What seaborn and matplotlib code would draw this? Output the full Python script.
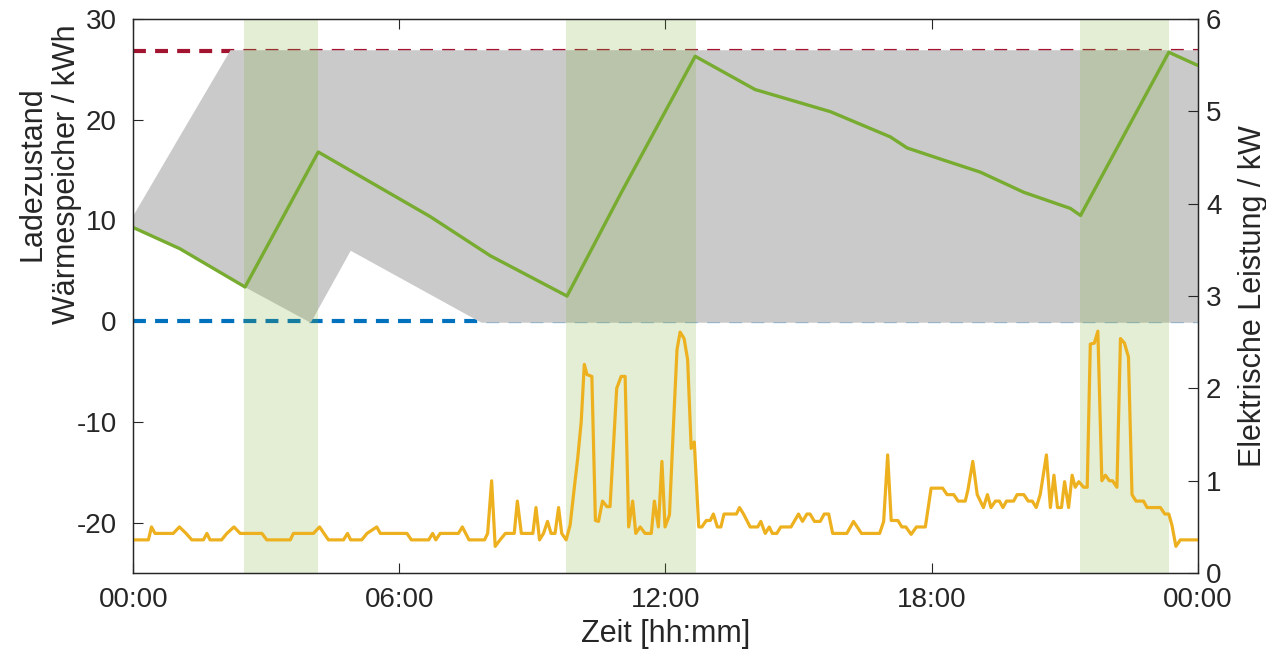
import matplotlib
matplotlib.use('Agg')
import matplotlib.pyplot as plt
import seaborn as sns

# Ladezustand Wärmespeicher (kWh) über der Zeit (h)
soc_t = [0.00, 1.05, 2.52, 4.17, 6.69, 8.05, 9.78, 11.02, 12.67, 14.02,
         15.72, 17.07, 17.45, 18.20, 19.10, 20.08, 21.13, 21.36, 23.35, 24.00]
soc_kwh = [9.3, 7.2, 3.4, 16.8, 10.4, 6.5, 2.5, 12.9, 26.3, 23.0,
           20.8, 18.3, 17.2, 16.1, 14.8, 12.8, 11.2, 10.5, 26.7, 25.4]

# Elektrische Leistung (kW)
p_t = [0.00, 0.34, 0.41, 0.49, 0.90, 1.04, 1.19, 1.32, 1.58, 1.66, 1.73, 1.99, 2.11, 2.27, 2.41,
       2.90, 3.01, 3.54, 3.61, 4.06, 4.20, 4.40, 4.74, 4.83, 4.90, 5.15, 5.27, 5.49, 5.57, 6.17,
       6.27, 6.66, 6.75, 6.82, 6.92, 7.33, 7.42, 7.57, 7.92, 7.99, 8.08, 8.16, 8.27, 8.39, 8.59,
       8.66, 8.75, 9.01, 9.08, 9.16, 9.25, 9.34, 9.42, 9.51, 9.59, 9.66, 9.76, 9.85, 9.95, 10.02,
       10.10, 10.17, 10.23, 10.34, 10.42, 10.49, 10.58, 10.68, 10.75, 10.90, 11.00, 11.09, 11.17,
       11.26, 11.33, 11.43, 11.54, 11.68, 11.75, 11.84, 11.92, 11.99, 12.09, 12.18, 12.26, 12.33,
       12.42, 12.50, 12.58, 12.65, 12.75, 12.82, 12.92, 13.01, 13.08, 13.17, 13.25, 13.32, 13.60,
       13.67, 13.76, 13.91, 14.08, 14.15, 14.25, 14.34, 14.41, 14.51, 14.60, 14.83, 15.00, 15.09,
       15.19, 15.26, 15.36, 15.49, 15.58, 15.68, 15.77, 16.09, 16.24, 16.42, 16.83, 16.92, 17.01,
       17.09, 17.24, 17.33, 17.42, 17.54, 17.66, 17.86, 17.99, 18.25, 18.35, 18.50, 18.60, 18.76,
       18.82, 18.93, 19.03, 19.17, 19.26, 19.34, 19.44, 19.53, 19.61, 19.69, 19.85, 19.93, 20.08,
       20.18, 20.27, 20.36, 20.45, 20.59, 20.68, 20.76, 20.84, 20.93, 21.00, 21.09, 21.17, 21.24,
       21.32, 21.43, 21.51, 21.58, 21.67, 21.75, 21.84, 21.92, 22.01, 22.08, 22.18, 22.26, 22.35,
       22.44, 22.52, 22.61, 22.78, 22.86, 23.16, 23.26, 23.35, 23.42, 23.51, 23.61, 24.00]
p_kw = [0.36, 0.36, 0.50, 0.43, 0.43, 0.50, 0.43, 0.36, 0.36, 0.43, 0.36, 0.36, 0.43, 0.50, 0.43,
        0.43, 0.36, 0.36, 0.43, 0.43, 0.50, 0.36, 0.36, 0.43, 0.36, 0.36, 0.43, 0.50, 0.43, 0.43,
        0.36, 0.36, 0.43, 0.36, 0.43, 0.43, 0.50, 0.36, 0.36, 0.43, 1.00, 0.29, 0.36, 0.43, 0.43,
        0.78, 0.43, 0.43, 0.71, 0.36, 0.43, 0.56, 0.43, 0.43, 0.71, 0.43, 0.36, 0.52, 0.95, 1.24,
        1.64, 2.26, 2.15, 2.13, 0.57, 0.56, 0.78, 0.72, 0.72, 2.00, 2.13, 2.13, 0.50,
        0.78, 0.43, 0.50, 0.43, 0.43, 0.78, 0.50, 1.21, 0.50, 0.63, 1.60, 2.42, 2.61,
        2.54, 2.31, 1.35, 1.42, 0.50, 0.50, 0.57, 0.57, 0.64, 0.50, 0.50, 0.64, 0.64,
        0.71, 0.64, 0.50, 0.50, 0.56, 0.43, 0.50, 0.43, 0.43, 0.50, 0.50, 0.64, 0.56,
        0.64, 0.64, 0.56, 0.56, 0.64, 0.64, 0.43, 0.43, 0.56, 0.43, 0.43, 0.56, 1.28,
        0.57, 0.57, 0.50, 0.50, 0.42, 0.50, 0.50, 0.92, 0.92, 0.85, 0.85, 0.78, 0.78,
        0.90, 1.21, 0.85, 0.71, 0.85, 0.71, 0.78, 0.78, 0.71, 0.78, 0.78, 0.85, 0.85,
        0.78, 0.78, 0.71, 0.85, 1.28, 0.71, 1.06, 0.71, 0.71, 0.99, 0.71, 1.06, 0.93,
        0.99, 0.93, 0.93, 2.48, 2.49, 2.62, 1.00, 1.06, 1.00, 1.00, 0.93, 2.54, 2.49,
        2.34, 0.85, 0.78, 0.78, 0.71, 0.71, 0.64, 0.64, 0.52, 0.29, 0.36, 0.36]

# Hülle der simulierten Speicherverläufe (grau)
env_t = [0.0, 1.05, 2.18, 2.52, 3.99, 4.81, 4.89, 7.84, 24.0]
env_low = [9.3, 7.2, 4.3, 3.4, -0.1, 6.4, 7.05, -0.1, -0.1]
env_high = [10.6, 18.5, 26.95, 26.95, 26.95, 26.95, 26.95, 26.95, 26.95]

# Ladefenster
win_start = [2.50, 9.75, 21.34]
win_end = [4.17, 12.68, 23.35]

soc_max = 26.8
soc_min = 0.0

x_ticks = [0, 6, 12, 18, 24]
x_labels = ['00:00', '06:00', '12:00', '18:00', '00:00']

sns.set_theme(style='white')
plt.rcParams['font.family'] = ['Liberation Sans', 'DejaVu Sans']
plt.rcParams['axes.unicode_minus'] = False

fig, ax = plt.subplots(figsize=(12.66, 6.55), dpi=100)
fig.subplots_adjust(left=0.1053, right=0.946, bottom=0.125, top=0.971)

# Grenzen des Speichers
ax.axhline(soc_max, color='#A2142F', lw=3, dashes=(3.1, 2.2), zorder=1)
ax.axhline(soc_min, color='#0072BD', lw=3, dashes=(3.1, 2.2), zorder=1)

# mögliche Verläufe
ax.fill_between(env_t, env_low, env_high, color='#cacaca', lw=0, zorder=2)

# Ladefenster
for a, b in zip(win_start, win_end):
    ax.axvspan(a, b, color='#77AC30', alpha=0.2, lw=0, zorder=3)

sns.lineplot(x=soc_t, y=soc_kwh, ax=ax, color='#77AC30', lw=2.4,
             estimator=None, sort=False, zorder=4)

ax2 = ax.twinx()
sns.lineplot(x=p_t, y=p_kw, ax=ax2, color='#EDB120', lw=2.3,
             estimator=None, sort=False)

# Achsen
ax.set_xlim(0, 24)
ax.set_xticks(x_ticks)
ax.set_xticklabels(x_labels)
ax.set_ylim(-25, 30)
ax.set_yticks(range(-20, 31, 10))
ax2.set_ylim(0, 6)
ax2.set_yticks(range(0, 7))

ax.tick_params(axis='x', direction='in', bottom=True, top=True, length=7, width=0.8,
               pad=10, labelsize=20, colors='#262626')
ax.tick_params(axis='y', direction='in', left=True, right=False, length=7, width=0.8,
               pad=12, labelsize=20, colors='#262626')
ax2.tick_params(axis='y', direction='in', right=True, length=7, width=0.8,
                pad=6, labelsize=20, colors='#262626')

for a in (ax, ax2):
    for s in a.spines.values():
        s.set_color('#262626')
        s.set_linewidth(0.9)

ax.set_xlabel('Zeit [hh:mm]', fontsize=22, color='#262626', labelpad=4)
ax.set_ylabel('Ladezustand\nWärmespeicher / kWh', fontsize=22, color='#262626')
ax.yaxis.set_label_coords(-0.048, 0.72)
ax2.set_ylabel('Elektrische Leistung / kW', fontsize=22, color='#262626', labelpad=12)

fig.savefig('out.png', dpi=100)
